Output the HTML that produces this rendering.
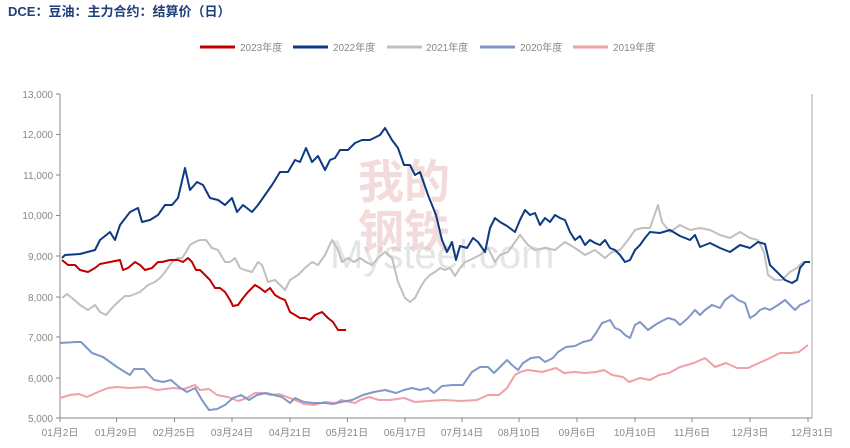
<!DOCTYPE html>
<html><head><meta charset="utf-8"><style>
body{margin:0;background:#fff;}
svg text{font-family:"Liberation Sans","Noto Sans CJK SC",sans-serif;}
</style></head><body>
<svg width="850" height="443" viewBox="0 0 850 443" xmlns="http://www.w3.org/2000/svg">
<rect width="850" height="443" fill="#fff"/>
<text x="8" y="16" font-size="13" font-weight="bold" fill="#1f3f7a">DCE：豆油：主力合约：结算价（日）</text>
<g font-size="10" fill="#888">
<line x1="200" y1="47" x2="235" y2="47" stroke="#c00000" stroke-width="3"/><text x="240" y="51">2023年度</text>
<line x1="293" y1="47" x2="328" y2="47" stroke="#0e3a83" stroke-width="3"/><text x="333" y="51">2022年度</text>
<line x1="387" y1="47" x2="422" y2="47" stroke="#c0c0c0" stroke-width="3"/><text x="426" y="51">2021年度</text>
<line x1="480" y1="47" x2="515" y2="47" stroke="#7f98c8" stroke-width="3"/><text x="520" y="51">2020年度</text>
<line x1="573" y1="47" x2="608" y2="47" stroke="#f0a0a8" stroke-width="3"/><text x="613" y="51">2019年度</text>
</g>
<g font-size="46" fill="#e8b0b0" opacity="0.45" font-weight="bold"><text x="358" y="198">我的</text><text x="358" y="248">钢铁</text></g>
<text x="330" y="268" font-size="40" fill="#ccc" opacity="0.5">Mysteel.com</text>
<g stroke="#888" stroke-width="1">
<line x1="60" y1="94" x2="60" y2="418"/><line x1="60" y1="418" x2="812" y2="418"/>
<line x1="812" y1="94" x2="812" y2="418" stroke="#aaa"/>
<line x1="56" y1="94" x2="60" y2="94"/><line x1="56" y1="134.5" x2="60" y2="134.5"/><line x1="56" y1="175" x2="60" y2="175"/><line x1="56" y1="215.5" x2="60" y2="215.5"/><line x1="56" y1="256" x2="60" y2="256"/><line x1="56" y1="297" x2="60" y2="297"/><line x1="56" y1="337" x2="60" y2="337"/><line x1="56" y1="378" x2="60" y2="378"/><line x1="56" y1="418" x2="60" y2="418"/>
</g>
<g font-size="10" fill="#888" text-anchor="end">
<text x="53" y="98">13,000</text><text x="53" y="138">12,000</text><text x="53" y="179">11,000</text><text x="53" y="219">10,000</text><text x="53" y="260">9,000</text><text x="53" y="301">8,000</text><text x="53" y="341">7,000</text><text x="53" y="382">6,000</text><text x="53" y="422">5,000</text>
</g>
<g stroke="#888"><line x1="60" y1="418" x2="60" y2="422"/><line x1="116.5" y1="418" x2="116.5" y2="422"/><line x1="174.5" y1="418" x2="174.5" y2="422"/><line x1="232" y1="418" x2="232" y2="422"/><line x1="290" y1="418" x2="290" y2="422"/><line x1="347.5" y1="418" x2="347.5" y2="422"/><line x1="405" y1="418" x2="405" y2="422"/><line x1="462" y1="418" x2="462" y2="422"/><line x1="519" y1="418" x2="519" y2="422"/><line x1="577" y1="418" x2="577" y2="422"/><line x1="635" y1="418" x2="635" y2="422"/><line x1="692" y1="418" x2="692" y2="422"/><line x1="750" y1="418" x2="750" y2="422"/><line x1="808" y1="418" x2="808" y2="422"/></g>
<g font-size="10" fill="#888" text-anchor="middle">
<text x="60" y="436">01月2日</text><text x="116" y="436">01月29日</text><text x="174" y="436">02月25日</text><text x="232" y="436">03月24日</text><text x="290" y="436">04月21日</text><text x="347" y="436">05月21日</text><text x="405" y="436">06月17日</text><text x="462" y="436">07月14日</text><text x="519" y="436">08月10日</text><text x="577" y="436">09月6日</text><text x="635" y="436">10月10日</text><text x="692" y="436">11月6日</text><text x="750" y="436">12月3日</text><text x="812" y="436">12月31日</text>
</g>
<g fill="none" stroke-width="2" stroke-linejoin="round">
<polyline stroke="#f0a0a8" points="60,398 70,395 79,394 87,397 98,392 108,388 117,387 130,388 146,387 157,390 173,388 184,389 195,385 200,390 209,389 217,395 228,397 238,401 247,398 255,393 263,393 271,395 279,394 287,397 295,400 304,404 314,405 325,402 336,403 341,400 350,402 355,403 360,400 369,397 379,400 390,400 404,398 415,402 428,401 444,400 461,401 477,400 488,395 499,395 507,388 515,375 520,372 528,370 542,372 556,368 564,373 575,372 585,373 596,372 604,370 612,375 623,377 629,382 640,378 650,380 659,375 669,373 680,367 694,363 705,358 715,367 726,363 737,368 748,368 759,363 770,358 780,353 791,353 799,352 808,345"/>
<polyline stroke="#7f98c8" points="60,343 76,342 81,342 92,353 103,357 117,367 130,375 134,369 144,369 154,380 163,382 171,380 179,387 187,392 195,388 202,400 209,410 217,409 225,405 233,398 241,395 249,400 257,395 266,393 274,395 282,397 290,403 295,398 304,402 314,403 325,403 333,404 341,402 352,400 363,395 374,392 385,390 396,393 404,390 412,388 420,390 428,388 434,393 442,386 453,385 463,385 472,372 480,367 488,367 494,373 501,366 507,360 512,365 518,370 523,363 531,358 539,357 545,362 553,358 558,352 566,347 575,346 583,342 591,340 596,333 602,323 605,322 610,320 615,328 620,330 625,335 630,338 635,325 640,322 648,330 655,325 660,322 668,318 675,320 680,325 688,318 695,310 700,315 705,310 712,305 720,308 725,300 732,295 738,300 745,303 750,318 755,315 760,310 765,308 770,310 778,305 785,300 790,305 795,310 800,305 805,303 810,300"/>
<polyline stroke="#c0c0c0" points="62,298 67,294 72,298 80,305 88,310 95,305 100,312 106,315 112,308 118,302 125,296 130,296 140,292 148,285 155,282 160,278 165,272 172,262 178,258 182,258 186,252 190,245 195,242 200,240 206,240 212,248 218,250 225,262 230,262 235,258 240,268 245,270 252,272 258,262 262,265 268,282 275,280 285,290 290,280 298,275 305,268 312,262 318,265 325,255 332,240 338,250 342,262 348,258 354,262 360,258 366,262 372,265 378,258 385,252 392,258 398,282 405,298 410,302 415,298 420,288 425,280 430,275 435,272 440,268 445,270 450,268 455,276 460,268 465,262 470,260 480,255 488,248 495,262 500,255 508,252 515,242 520,235 528,245 535,250 545,248 555,250 565,242 575,248 585,255 595,250 605,258 612,252 620,250 628,240 635,230 642,228 650,228 658,205 662,222 670,232 680,225 690,230 700,228 710,230 720,235 730,238 740,232 750,238 758,240 764,252 768,275 775,280 782,280 790,272 797,268 803,262 808,262"/>
<polyline stroke="#0e3a83" points="62,258 65,255 80,254 95,250 100,240 110,232 115,240 120,225 130,212 138,208 142,222 150,220 158,215 165,205 172,205 178,198 185,168 190,190 197,182 203,185 210,198 218,200 225,205 232,198 237,212 243,205 252,212 258,205 265,195 272,185 280,172 288,172 295,160 300,162 306,148 312,162 318,156 325,170 330,160 335,158 340,150 348,150 355,143 362,140 370,140 380,135 385,128 392,140 398,148 404,165 410,165 415,175 420,172 428,195 432,205 436,215 442,240 447,252 452,242 456,260 460,246 467,248 473,238 478,242 485,252 490,228 495,218 500,222 507,226 515,232 520,220 525,210 530,215 535,213 540,225 545,218 550,222 555,215 560,218 565,220 570,232 575,240 580,236 585,245 590,240 595,243 600,245 605,240 610,248 615,250 620,255 625,262 630,260 635,250 640,245 645,238 650,232 660,233 670,230 680,236 690,240 695,235 700,247 710,243 720,248 730,252 740,245 750,248 758,242 765,244 770,265 775,270 785,280 792,283 797,280 800,268 805,262 810,262"/>
<polyline stroke="#c00000" points="62,260 68,265 75,265 80,270 88,272 95,268 100,264 110,262 120,260 123,270 128,268 135,262 140,265 145,270 152,268 158,262 162,262 170,260 178,260 183,262 188,258 192,262 196,270 200,270 205,275 210,280 215,288 220,288 225,292 230,300 233,306 238,305 243,298 248,292 255,285 260,288 265,292 270,288 275,295 280,298 285,300 290,312 295,315 300,318 305,318 310,320 315,315 322,312 328,318 333,322 338,330 343,330 346,330"/>
</g>
</svg>
</body></html>
